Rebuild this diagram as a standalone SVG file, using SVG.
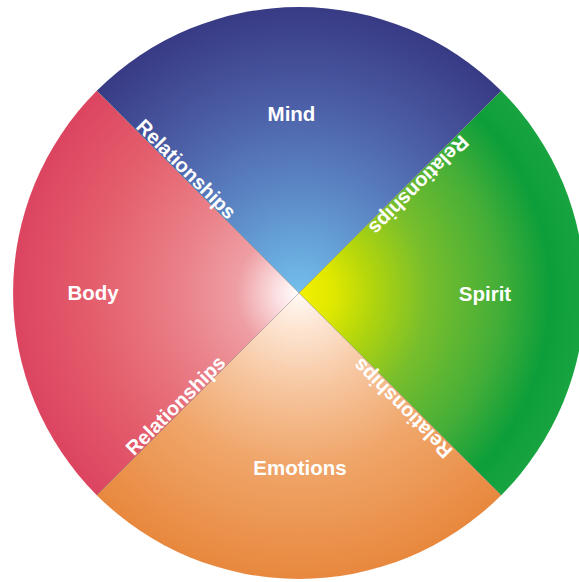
<svg xmlns="http://www.w3.org/2000/svg" width="579" height="582" viewBox="0 0 579 582">
<style>
.lbl{font-family:"Liberation Sans",Arial,sans-serif;font-weight:bold;fill:#ffffff;text-anchor:middle;font-size:20.5px}
.rel{font-family:"Liberation Sans",Arial,sans-serif;font-weight:bold;fill:#ffffff;text-anchor:middle;font-size:20px}
.div{stroke:#6e6e6e;stroke-width:0.8;stroke-opacity:0.55;fill:none}
</style>
<defs>
<radialGradient id="gMind" gradientUnits="userSpaceOnUse" cx="299" cy="293" r="286">
<stop offset="0" stop-color="#74c0ec"/>
<stop offset="0.15" stop-color="#68a8dc"/>
<stop offset="0.4" stop-color="#5a82c2"/>
<stop offset="0.65" stop-color="#4c60a8"/>
<stop offset="1" stop-color="#383a84"/>
</radialGradient>
<radialGradient id="gBody" gradientUnits="userSpaceOnUse" cx="299" cy="293" r="286">
<stop offset="0" stop-color="#ffffff"/>
<stop offset="0.08" stop-color="#fbe0e2"/>
<stop offset="0.22" stop-color="#ee9ea3"/>
<stop offset="0.42" stop-color="#ea8088"/>
<stop offset="0.72" stop-color="#e45e6c"/>
<stop offset="1" stop-color="#dc4460"/>
</radialGradient>
<radialGradient id="gSpirit" gradientUnits="userSpaceOnUse" cx="299" cy="293" r="286">
<stop offset="0" stop-color="#f4f000"/>
<stop offset="0.12" stop-color="#e0e800"/>
<stop offset="0.25" stop-color="#b4d60c"/>
<stop offset="0.45" stop-color="#78be2c"/>
<stop offset="0.7" stop-color="#44ae38"/>
<stop offset="0.88" stop-color="#0c9e3a"/>
<stop offset="1" stop-color="#18a440"/>
</radialGradient>
<radialGradient id="gEmo" gradientUnits="userSpaceOnUse" cx="299" cy="293" r="286">
<stop offset="0" stop-color="#fffaf4"/>
<stop offset="0.12" stop-color="#fde6d4"/>
<stop offset="0.35" stop-color="#f6c49c"/>
<stop offset="0.6" stop-color="#f0a66a"/>
<stop offset="1" stop-color="#e8883e"/>
</radialGradient>
</defs>
<rect width="579" height="582" fill="#ffffff"/>
<g id="mind">
<path d="M299,293 L96.8,90.8 A286,286 0 0 1 501.2,90.8 Z" fill="url(#gMind)"/>
<text class="lbl" x="291.5" y="121">Mind</text>
</g>
<g id="spirit">
<path d="M299,293 L501.2,90.8 A286,286 0 0 1 501.2,495.2 Z" fill="url(#gSpirit)"/>
<text class="lbl" x="485" y="301">Spirit</text>
</g>
<g id="emotions">
<path d="M299,293 L501.2,495.2 A286,286 0 0 1 96.8,495.2 Z" fill="url(#gEmo)"/>
<text class="lbl" x="300" y="475">Emotions</text>
</g>
<g id="body">
<path d="M299,293 L96.8,495.2 A286,286 0 0 1 96.8,90.8 Z" fill="url(#gBody)"/>
<text class="lbl" x="93" y="300">Body</text>
</g>
<g id="connectors">
<line class="div" x1="299" y1="293" x2="96.8" y2="90.8"/>
<line class="div" x1="299" y1="293" x2="501.2" y2="90.8"/>
<line class="div" x1="299" y1="293" x2="501.2" y2="495.2"/>
<line class="div" x1="299" y1="293" x2="96.8" y2="495.2"/>
<text class="rel" transform="translate(186.4,169) rotate(45)" y="7">Relationships</text>
<text class="rel" transform="translate(419,185.4) rotate(135)" y="7">Relationships</text>
<text class="rel" transform="translate(175.4,405.3) rotate(-45)" y="7">Relationships</text>
<text class="rel" transform="translate(402.5,408.5) rotate(-135)" y="7">Relationships</text>
</g>
</svg>
